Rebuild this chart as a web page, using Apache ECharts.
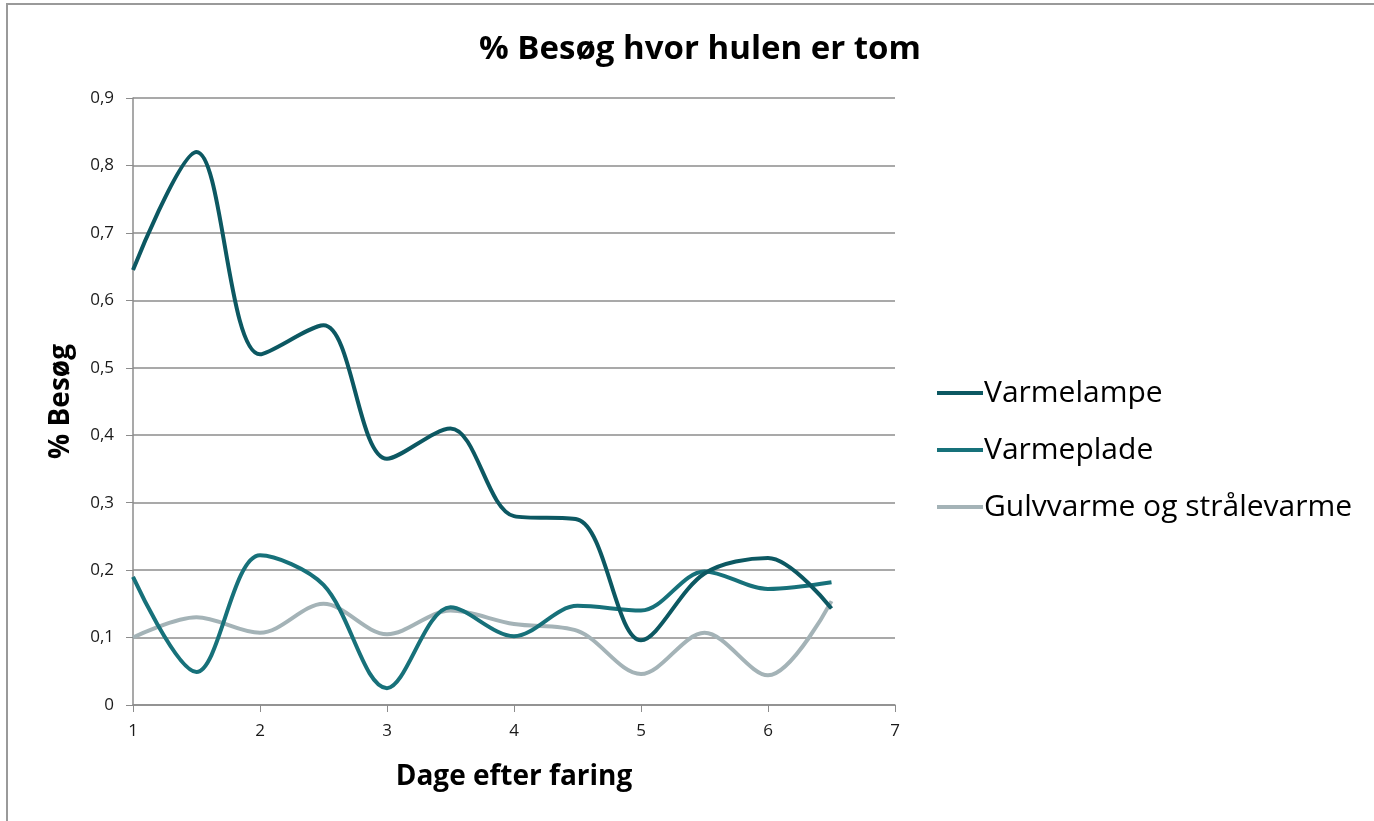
<!DOCTYPE html>
<html lang="da">
<head>
<meta charset="UTF-8">
<title>% Besøg hvor hulen er tom</title>
<script src="https://cdn.jsdelivr.net/npm/echarts@6/dist/echarts.min.js"></script>
<style>
  html, body { margin: 0; padding: 0; background: #fff; }
  #frame {
    position: absolute; left: 6px; top: 3px; width: 1368px; height: 818px;
    border-left: 2px solid #9a9a9a; border-top: 2px solid #9a9a9a; box-sizing: border-box;
  }
  #chart { position: absolute; left: 0; top: 0; width: 1374px; height: 821px; }
</style>
</head>
<body>
<div id="frame"></div>
<div id="chart"></div>
<script>
// dage efter faring
var days = [1, 1.5, 2, 2.5, 3, 3.5, 4, 4.5, 5, 5.5, 6, 6.5];
var varmelampe = [0.645, 0.82, 0.52, 0.563, 0.365, 0.41, 0.28, 0.275, 0.096, 0.195, 0.218, 0.143];
var varmeplade = [0.19, 0.049, 0.222, 0.178, 0.025, 0.145, 0.102, 0.147, 0.14, 0.198, 0.172, 0.182];
var gulvvarme = [0.1, 0.13, 0.107, 0.15, 0.105, 0.14, 0.12, 0.11, 0.046, 0.107, 0.044, 0.154];
var seriesNames = ['Varmelampe', 'Varmeplade', 'Gulvvarme og strålevarme'];
var colors = ['#0c5862', '#17717a', '#a4b3b7'];

function pairs(vals) {
  return vals.map(function (v, i) { return [days[i], v]; });
}

var chart = echarts.init(document.getElementById('chart'));
var font = '"Open Sans", "DejaVu Sans", sans-serif';
var allData = [varmelampe, varmeplade, gulvvarme];

chart.setOption({
  animation: false,
  title: {
    text: '% Besøg hvor hulen er tom',
    left: 695, top: 28, textAlign: 'center',
    textStyle: { fontFamily: font, fontSize: 33, fontWeight: 'bold', color: '#000' }
  },
  legend: {
    orient: 'vertical', left: 932, top: 373,
    itemWidth: 46, itemHeight: 4, itemGap: 27,
    icon: 'rect',
    textStyle: { fontFamily: font, fontSize: 30, color: '#000', padding: [0, 0, 0, -4] },
    data: seriesNames
  },
  grid: { left: 133, right: 479, top: 98, bottom: 116 },
  xAxis: {
    type: 'value', min: 1, max: 7, interval: 1,
    name: 'Dage efter faring', nameLocation: 'middle', nameGap: 58,
    nameTextStyle: { fontFamily: font, fontSize: 28, fontWeight: 'bold', color: '#000' },
    axisLine: { lineStyle: { color: '#8c8c8c', width: 1.5 } },
    axisTick: { show: true, length: 7, lineStyle: { color: '#8c8c8c' } },
    axisLabel: { fontFamily: font, fontSize: 17, color: '#1a1a1a', margin: 18 },
    splitLine: { show: false }
  },
  yAxis: {
    type: 'value', min: 0, max: 0.9, interval: 0.1,
    name: '% Besøg', nameLocation: 'middle', nameGap: 58, nameRotate: 90,
    nameTextStyle: { fontFamily: font, fontSize: 28, fontWeight: 'bold', color: '#000' },
    axisLine: { show: true, lineStyle: { color: '#8c8c8c', width: 1.5 } },
    axisTick: { show: true, length: 7, lineStyle: { color: '#8c8c8c' } },
    axisLabel: {
      fontFamily: font, fontSize: 17, color: '#1a1a1a', margin: 19,
      formatter: function (v) { return String(Math.round(v * 10) / 10).replace('.', ','); }
    },
    splitLine: { lineStyle: { color: '#8c8c8c', width: 1.5 } }
  },
  series: seriesNames.map(function (n, i) {
    return {
      name: n, type: 'line', smooth: 0.33, symbol: 'none',
      data: pairs(allData[i]),
      lineStyle: { color: colors[i], width: 4 },
      itemStyle: { color: colors[i] },
      z: 3 - i
    };
  })
});
</script>
</body>
</html>
